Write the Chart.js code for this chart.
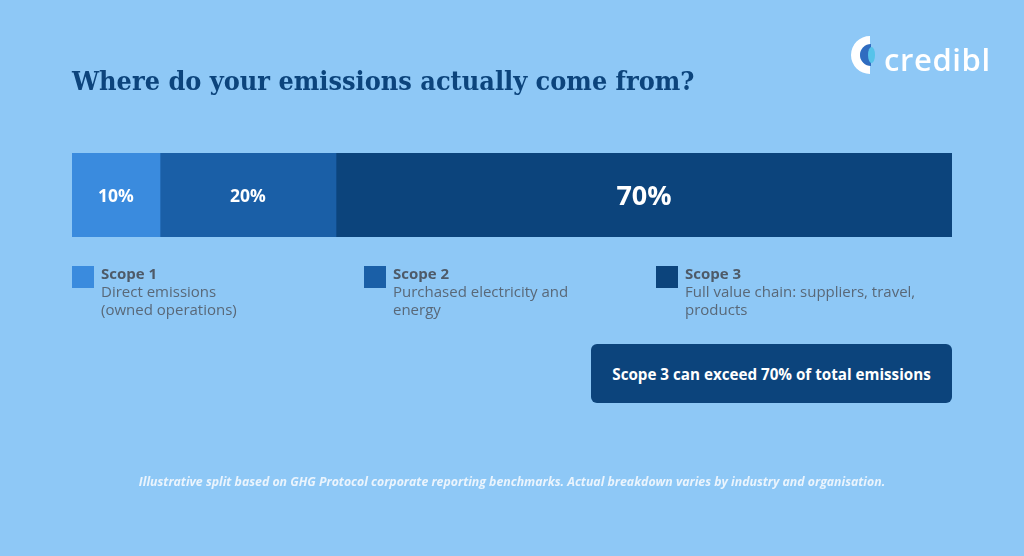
<!DOCTYPE html>
<html>
<head>
<meta charset="utf-8">
<script src="https://cdn.jsdelivr.net/npm/chart.js@4/dist/chart.umd.min.js"></script>
<style>
  html,body{margin:0;padding:0;}
  body{width:1024px;height:556px;background:#8EC8F6;position:relative;overflow:hidden;font-family:"Open Sans",sans-serif;}
  #wrap{position:absolute;left:0;top:0;width:1024px;height:556px;}
  .title{position:absolute;left:72px;top:65px;font-family:"DejaVu Serif Condensed","DejaVu Serif",serif;font-weight:bold;font-size:26.8px;color:#0C447C;white-space:nowrap;}
  .logo{position:absolute;left:850px;top:35px;}
  .logotext{position:absolute;left:884px;top:38px;font-family:"Open Sans",sans-serif;font-size:31px;font-weight:600;color:#fff;letter-spacing:0.6px;}
  .leg{position:absolute;top:264px;}
  .sw{position:absolute;left:0;top:2px;width:22px;height:22px;}
  .lt{position:absolute;left:29px;top:0;font-size:15px;line-height:18px;color:#596878;white-space:nowrap;}
  .lt b{color:#4E5A68;font-weight:700;}
  .callout{position:absolute;left:591px;top:344px;width:361px;height:59px;background:#0C447C;border-radius:6px;color:#fff;font-weight:700;font-size:15.2px;display:flex;align-items:center;justify-content:center;}
  .foot{position:absolute;left:0;width:1024px;top:473px;text-align:center;font-size:12.3px;font-style:italic;font-weight:700;color:#EAF4FD;}
</style>
</head>
<body>
<div id="wrap"><canvas id="c" width="1024" height="556"></canvas></div>
<div class="title">Where do your emissions actually come from?</div>
<svg class="logo" viewBox="0 0 40 40" width="40" height="40">
  <path d="M20 1 A19 19 0 0 0 20 39 L20 30 A10 10 0 0 1 20 10 Z" fill="#ffffff"/>
  <path d="M21 9 A11 11 0 0 0 21 31 Z" fill="#2F6CC0"/>
  <ellipse cx="21.5" cy="20" rx="3.5" ry="8" fill="#56C3EA"/>
</svg>
<div class="logotext">credibl</div>

<div id="legend"></div>
<div class="callout">Scope 3 can exceed 70% of total emissions</div>
<div class="foot">Illustrative split based on GHG Protocol corporate reporting benchmarks. Actual breakdown varies by industry and organisation.</div>

<script>
const categories = ["Emissions"];
const scopeNames = ["Scope 1", "Scope 2", "Scope 3"];
const scopeValues = [10, 20, 70];
const scopeDescriptions = [
  ["Direct emissions", "(owned operations)"],
  ["Purchased electricity and", "energy"],
  ["Full value chain: suppliers, travel,", "products"]
];
const scopeColors = ["#3A8BDE", "#1A5FA7", "#0C447C"];
const legendLeft = [72, 364, 656];

// legend (HTML)
const legEl = document.getElementById('legend');
scopeNames.forEach((n, i) => {
  const d = document.createElement('div');
  d.className = 'leg';
  d.style.left = legendLeft[i] + 'px';
  d.innerHTML = '<div class="sw" style="background:' + scopeColors[i] + '"></div>' +
    '<div class="lt"><b>' + n + '</b><br>' + scopeDescriptions[i].join('<br>') + '</div>';
  legEl.appendChild(d);
});

const labelPlugin = {
  id: 'segLabels',
  afterDatasetsDraw(chart) {
    const ctx = chart.ctx;
    chart.data.datasets.forEach((ds, di) => {
      const meta = chart.getDatasetMeta(di);
      meta.data.forEach((bar, j) => {
        const v = ds.data[j];
        const x = (bar.x + bar.base) / 2;
        const y = bar.y + 2;
        ctx.save();
        ctx.fillStyle = '#ffffff';
        ctx.textAlign = 'center';
        ctx.textBaseline = 'middle';
        const size = v >= 50 ? 27 : 17.5;
        ctx.font = '700 ' + size + 'px "Open Sans"';
        ctx.fillText(v + '%', x, y);
        ctx.restore();
      });
    });
  }
};

new Chart(document.getElementById('c'), {
  type: 'bar',
  data: {
    labels: categories,
    datasets: scopeNames.map((n, i) => ({
      label: n,
      data: [scopeValues[i]],
      backgroundColor: scopeColors[i],
      borderWidth: 0,
      barPercentage: 1,
      categoryPercentage: 1
    }))
  },
  options: {
    indexAxis: 'y',
    responsive: false,
    animation: false,
    layout: { padding: { left: 72, right: 72, top: 153, bottom: 319 } },
    scales: {
      x: { stacked: true, min: 0, max: 100, display: false },
      y: { stacked: true, display: false }
    },
    plugins: { legend: { display: false }, tooltip: { enabled: false } }
  },
  plugins: [labelPlugin]
});
</script>
</body>
</html>
